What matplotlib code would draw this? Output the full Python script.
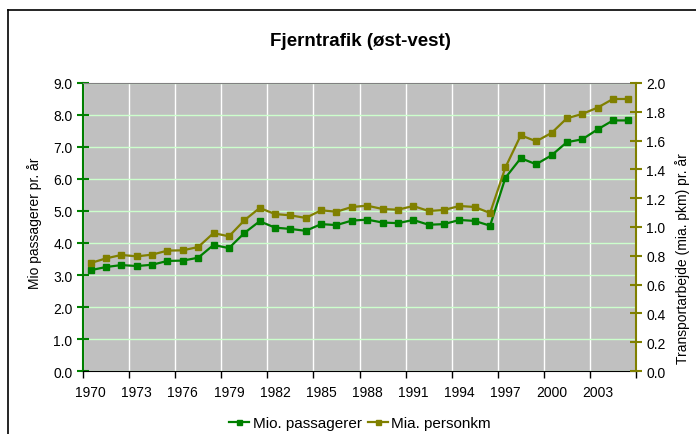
import numpy as np
import matplotlib
matplotlib.use('Agg')
import matplotlib.pyplot as plt
from matplotlib.lines import Line2D

plt.rcParams['font.family'] = ['Liberation Sans', 'DejaVu Sans']

aar = list(range(1970, 2006))
passagerer = [3.15, 3.25, 3.31, 3.28, 3.32, 3.44, 3.45, 3.54, 3.94, 3.84,
              4.31, 4.68, 4.48, 4.44, 4.38, 4.59, 4.56, 4.70, 4.73, 4.64,
              4.62, 4.72, 4.57, 4.59, 4.72, 4.69, 4.54, 6.04, 6.65, 6.46,
              6.74, 7.15, 7.24, 7.55, 7.83, 7.83]
personkm = [0.750, 0.782, 0.806, 0.796, 0.808, 0.836, 0.838, 0.861, 0.958, 0.935,
            1.046, 1.132, 1.090, 1.081, 1.063, 1.116, 1.106, 1.139, 1.148, 1.125,
            1.120, 1.146, 1.111, 1.118, 1.146, 1.139, 1.097, 1.414, 1.637, 1.595,
            1.653, 1.755, 1.785, 1.829, 1.889, 1.889]
xlabels = [str(a) for a in aar[::3]]

groen = '#008000'
oliven = '#808000'

W, H = 696, 435
fig = plt.figure(figsize=(W / 100, H / 100), dpi=100)

# ramme om diagrammet (beskaaret i hoejre og bund)
fig.add_artist(Line2D([8 / W, 8 / W], [0, 1 - 11 / H], color='black', lw=1.2))
fig.add_artist(Line2D([8 / W, 1], [1 - 11 / H, 1 - 11 / H], color='black', lw=1.2))

ax = fig.add_axes([83 / W, 1 - 372 / H, 553 / W, 288 / H])
ax.set_facecolor('#c0c0c0')
x = np.arange(len(aar))

ax.plot(x, passagerer, color=groen, lw=1.6, marker='s', ms=4.5, label='Mio. passagerer', zorder=3)
ax.set_xlim(-0.5, len(aar) - 0.5)
ax.set_ylim(0, 9)
ax.set_yticks(np.arange(0, 9.01, 1))
ax.set_yticklabels([f'{v:.1f}' for v in np.arange(0, 9.01, 1)])

ax.set_xticks(np.arange(-0.5, len(aar), 3))
ax.set_xticklabels([])
ax.set_xticks(x[::3], minor=True)
ax.set_xticklabels(xlabels, minor=True)
ax.tick_params(axis='x', which='major', direction='out', length=5, width=1, color='black')
ax.tick_params(axis='x', which='minor', length=0, pad=10, labelsize=10)
ax.tick_params(axis='y', direction='inout', length=9, width=1.5, color=groen, labelsize=10, pad=3)

ax.grid(axis='y', color='#ccffcc', lw=1)
ax.grid(axis='x', which='major', color='white', lw=1)
ax.set_axisbelow(True)

ax.spines['left'].set_color(groen)
ax.spines['left'].set_linewidth(1.5)
ax.spines['bottom'].set_color('black')
ax.spines['top'].set_color('#808080')
ax.spines['right'].set_visible(False)

ax2 = ax.twinx()
ax2.plot(x, personkm, color=oliven, lw=1.6, marker='s', ms=4.5, label='Mia. personkm', zorder=3)
ax2.set_ylim(0, 2)
ax2.set_yticks(np.arange(0, 2.01, 0.2))
ax2.set_yticklabels([f'{v:.1f}' for v in np.arange(0, 2.01, 0.2)])
ax2.tick_params(axis='y', direction='inout', length=9, width=1.5, color=oliven, labelsize=10, pad=3)
ax2.spines['right'].set_color(oliven)
ax2.spines['right'].set_linewidth(1.5)
ax2.spines['left'].set_visible(False)
ax2.spines['top'].set_visible(False)
ax2.spines['bottom'].set_visible(False)

fig.text(360 / W, 1 - 42 / H, 'Fjerntrafik (øst-vest)', ha='center', va='center',
         fontsize=13.5, fontweight='bold')
fig.text(35 / W, 1 - 223 / H, 'Mio passagerer pr. år', rotation=90, ha='center', va='center', fontsize=10)
fig.text(683 / W, 1 - 259 / H, 'Transportarbejde (mia. pkm) pr. år', rotation=90, ha='center',
         va='center', fontsize=10)

h1, l1 = ax.get_legend_handles_labels()
h2, l2 = ax2.get_legend_handles_labels()
leg = fig.legend(h1 + h2, l1 + l2, loc='center', bbox_to_anchor=(360 / W, 1 - 424 / H), ncol=2,
                 frameon=False, fontsize=11, handlelength=1.3, handletextpad=0.25,
                 columnspacing=0.4, markerscale=0.8)

fig.savefig('out.png', dpi=100)
